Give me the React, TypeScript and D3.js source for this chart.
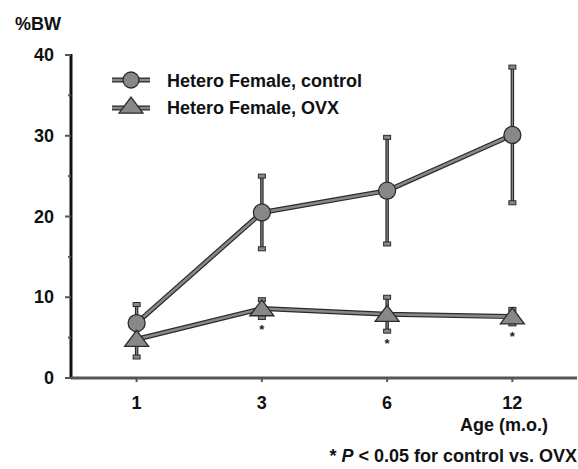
import React from "react";
import * as d3 from "d3";

const ages = ["1", "3", "6", "12"];
const controlMean = [6.8, 20.5, 23.2, 30.1];
const controlErr = [2.3, 4.5, 6.6, 8.4];
const ovxMean = [4.8, 8.6, 7.9, 7.6];
const ovxErr = [2.2, 1.1, 2.1, 0.9];
const significant = [false, true, true, true];
const yTicks = [0, 10, 20, 30, 40];
const yMinorTicks = [5, 15, 25, 35];
const seriesNames = ["Hetero Female, control", "Hetero Female, OVX"];

const W = 578;
const H = 469;
const FONT = "Arial, 'Liberation Sans', Helvetica, sans-serif";
const FILL = "#888888";
const DARK = "#2a2a2a";
const FS = 18;

export default function App() {
  const x = d3.scalePoint<string>().domain(ages).range([74, 575]).padding(0.5);
  const y = d3.scaleLinear().domain([0, 40]).range([378, 55]);

  const line = d3
    .line<number>()
    .x((_, i) => x(ages[i]) as number)
    .y((d) => y(d));

  const tri = (cx: number, cy: number, w = 24, h = 16) =>
    `M${cx - w / 2},${cy + h * 0.45}L${cx},${cy - h * 0.55}L${cx + w / 2},${cy + h * 0.45}Z`;

  const errBar = (cx: number, m: number, e: number, key: string) => {
    const top = y(m + e);
    const bot = y(m - e);
    return (
      <g key={key}>
        <line x1={cx} x2={cx} y1={top} y2={bot} stroke={DARK} strokeWidth={3.5} />
        <line x1={cx} x2={cx} y1={top} y2={bot} stroke={FILL} strokeWidth={1.2} />
        <rect x={cx - 3.5} y={top - 2} width={7} height={4} fill={FILL} stroke={DARK} strokeWidth={1} />
        <rect x={cx - 3.5} y={bot - 2} width={7} height={4} fill={FILL} stroke={DARK} strokeWidth={1} />
      </g>
    );
  };

  const thickLine = (d: string | null, key: string) => (
    <g key={key}>
      <path d={d || ""} fill="none" stroke={DARK} strokeWidth={5} strokeLinejoin="round" />
      <path d={d || ""} fill="none" stroke={FILL} strokeWidth={2.6} strokeLinejoin="round" />
    </g>
  );

  return (
    <svg width={W} height={H} style={{ position: "absolute", left: 0, top: 0, background: "#fff" }} fontFamily={FONT}>
      <rect width={W} height={H} fill="#fff" />
      {/* y axis label */}
      <text x={15} y={30} fontSize={FS} fontWeight="bold" fill="#111">%BW</text>

      {/* axes */}
      <line x1={71} x2={71} y1={y(40) - 1} y2={y(0) + 1} stroke="#111" strokeWidth={3} />
      <line x1={71} x2={577} y1={y(0)} y2={y(0)} stroke="#555" strokeWidth={3} />
      {yTicks.map((t) => (
        <g key={"yt" + t}>
          <line x1={65} x2={71} y1={y(t)} y2={y(t)} stroke="#555" strokeWidth={2} />
          <text x={54} y={y(t) + 6} fontSize={FS} fontWeight="bold" textAnchor="end" fill="#111">
            {t}
          </text>
        </g>
      ))}
      {yMinorTicks.map((t) => (
        <line key={"ym" + t} x1={68} x2={71} y1={y(t)} y2={y(t)} stroke="#555" strokeWidth={2} />
      ))}
      {ages.map((a) => (
        <g key={"xt" + a}>
          <line x1={x(a)} x2={x(a)} y1={y(0)} y2={y(0) + 4} stroke="#555" strokeWidth={2} />
          <text x={x(a)} y={409} fontSize={FS} fontWeight="bold" textAnchor="middle" fill="#111">
            {a}
          </text>
        </g>
      ))}
      <text x={548} y={431} fontSize={FS} fontWeight="bold" textAnchor="end" fill="#111">
        Age (m.o.)
      </text>
      <text x={577} y={462} fontSize={FS} fontWeight="bold" textAnchor="end" fill="#111">
        {"* "}
        <tspan fontStyle="italic">P</tspan>
        {" < 0.05 for control vs. OVX"}
      </text>

      {/* error bars */}
      {ages.map((a, i) => errBar(x(a) as number, controlMean[i], controlErr[i], "ce" + a))}
      {ages.map((a, i) => errBar(x(a) as number, ovxMean[i], ovxErr[i], "oe" + a))}

      {/* lines */}
      {thickLine(line(controlMean), "cl")}
      {thickLine(line(ovxMean), "ol")}

      {/* markers */}
      {ages.map((a, i) => (
        <circle key={"cm" + a} cx={x(a)} cy={y(controlMean[i])} r={8.5} fill={FILL} stroke={DARK} strokeWidth={1.3} />
      ))}
      {ages.map((a, i) => (
        <path key={"om" + a} d={tri(x(a) as number, y(ovxMean[i]))} fill={FILL} stroke={DARK} strokeWidth={1.3} />
      ))}

      {/* significance stars */}
      {ages.map((a, i) =>
        significant[i] ? (
          <text key={"s" + a} x={x(a)} y={y(ovxMean[i] - ovxErr[i]) + 17} fontSize={13} fontWeight="bold" textAnchor="middle" fill="#222">
            *
          </text>
        ) : null
      )}

      {/* legend */}
      {thickLine(`M112,80L150,80`, "lg1")}
      <circle cx={131} cy={80} r={8} fill={FILL} stroke={DARK} strokeWidth={1.3} />
      <text x={167} y={87} fontSize={FS} fontWeight="bold" fill="#111">{seriesNames[0]}</text>
      {thickLine(`M112,108L150,108`, "lg2")}
      <path d={tri(131, 106)} fill={FILL} stroke={DARK} strokeWidth={1.3} />
      <text x={167} y={114} fontSize={FS} fontWeight="bold" fill="#111">{seriesNames[1]}</text>
    </svg>
  );
}
